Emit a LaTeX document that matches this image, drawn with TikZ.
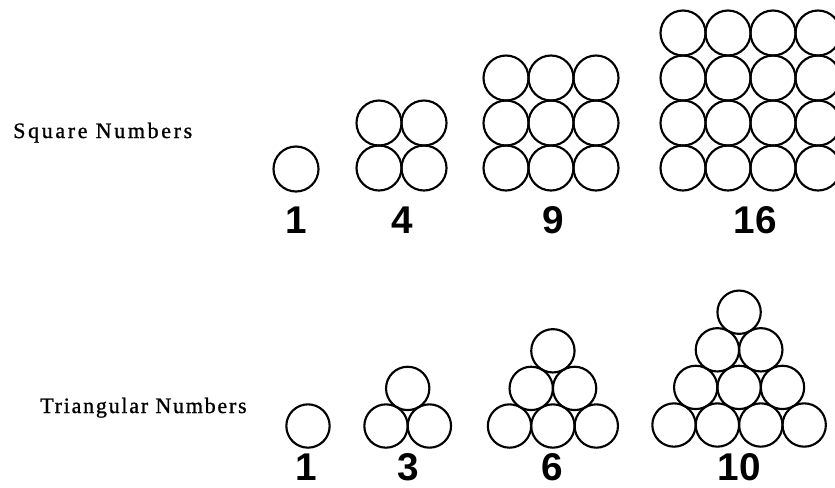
\documentclass[tikz,border=0pt]{standalone}
\usepackage{fontspec}
\setmainfont{Liberation Serif}
\newfontfamily\sqtitlefont[LetterSpace=12,FakeBold=1]{Liberation Serif}
\newfontfamily\trititlefont[LetterSpace=8,FakeBold=1]{Liberation Serif}
\newfontfamily\numfont{Liberation Sans}
\begin{document}
\begin{tikzpicture}[x=0.75pt,y=-0.75pt,
  sqball/.style={circle,draw,inner sep=0pt,minimum size=33.75pt,line width=1.6pt},
  triball/.style={circle,draw,inner sep=0pt,minimum size=32.5pt,line width=1.6pt},
  numlabel/.style={anchor=base,inner sep=0pt,font=\numfont\bfseries\fontsize{29pt}{31pt}\selectfont},
  rowtitle/.style={anchor=base west,inner sep=0pt}]
\useasboundingbox[fill=white] (0,0) rectangle (835,487);

% titles
\node[rowtitle,font=\sqtitlefont\fontsize{16.5pt}{18pt}\selectfont] (sqtitle) at (13,138) {Square Numbers};
\node[rowtitle,font=\trititlefont\fontsize{16.5pt}{18pt}\selectfont] (trititle) at (40,413) {Triangular Numbers};

% square numbers
\node[sqball] (sq1) at (296,169) {};
\foreach \i in {0,1} \foreach \j in {0,1}
  \node[sqball] (sq4-\i-\j) at ({379+\i*45},{168-\j*45}) {};
\foreach \i in {0,1,2} \foreach \j in {0,1,2}
  \node[sqball] (sq9-\i-\j) at ({506+\i*45},{168-\j*45}) {};
\foreach \i in {0,...,3} \foreach \j in {0,...,3}
  \node[sqball] (sq16-\i-\j) at ({683+\i*45},{168-\j*45}) {};

\node[numlabel] (lsq1) at (296,233) {1};
\node[numlabel] (lsq4) at (402,233) {4};
\node[numlabel] (lsq9) at (553,233) {9};
\node[numlabel] (lsq16) at (755,233) {16};

% triangular numbers
\node[triball] (tr1) at (308,426) {};
\foreach \r in {0,1} {
  \pgfmathtruncatemacro\m{1-\r}
  \foreach \k in {0,...,\m}
    \node[triball] (tr3-\r-\k) at ({386+\r*21.7+\k*43.4},{426-\r*37.6}) {};
}
\foreach \r in {0,1,2} {
  \pgfmathtruncatemacro\m{2-\r}
  \foreach \k in {0,...,\m}
    \node[triball] (tr6-\r-\k) at ({509.5+\r*21.7+\k*43.4},{426-\r*37.6}) {};
}
\foreach \r in {0,...,3} {
  \pgfmathtruncatemacro\m{3-\r}
  \foreach \k in {0,...,\m}
    \node[triball] (tr10-\r-\k) at ({674+\r*21.7+\k*43.4},{425-\r*37.6}) {};
}

\node[numlabel] (ltr1) at (306,480) {1};
\node[numlabel] (ltr3) at (408,480) {3};
\node[numlabel] (ltr6) at (552,480) {6};
\node[numlabel] (ltr10) at (739,480) {10};
\end{tikzpicture}
\end{document}
